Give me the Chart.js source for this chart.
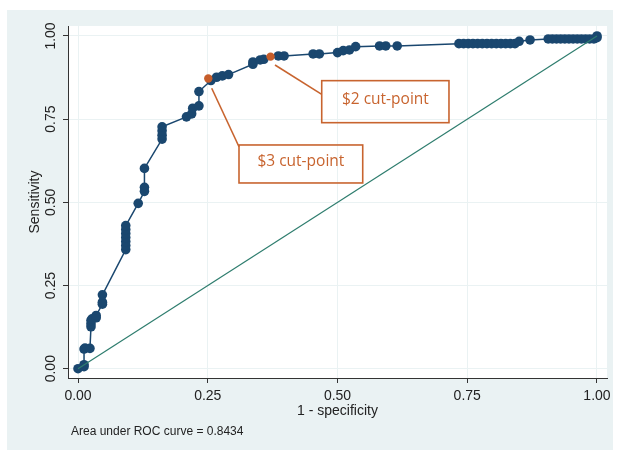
<!DOCTYPE html>
<html>
<head>
<meta charset="utf-8">
<script src="https://cdn.jsdelivr.net/npm/chart.js@4.4.1/dist/chart.umd.min.js"></script>
<style>
  html, body { margin: 0; padding: 0; background: #ffffff; }
  canvas { display: block; }
</style>
</head>
<body>
<canvas id="c" width="617" height="452"></canvas>
<script>
// ---- data ----
const fpr = [0, 0.0116, 0.0116, 0.0116, 0.0135, 0.023, 0.025, 0.025, 0.025, 0.027, 0.035, 0.035,
  0.047, 0.047, 0.047, 0.092, 0.092, 0.092, 0.092, 0.092, 0.092, 0.092, 0.116, 0.128, 0.128, 0.128,
  0.162, 0.162, 0.162, 0.162, 0.209, 0.219, 0.221, 0.233, 0.233, 0.256, 0.267, 0.278, 0.29,
  0.337, 0.337, 0.351, 0.358, 0.386, 0.397, 0.453, 0.465, 0.5, 0.511, 0.523, 0.535, 0.581, 0.593, 0.615,
  0.734, 0.743, 0.752, 0.761, 0.770, 0.779, 0.788, 0.797, 0.806, 0.815, 0.824, 0.833, 0.842,
  0.85, 0.871,
  0.906, 0.914, 0.922, 0.930, 0.938, 0.946, 0.954, 0.962, 0.970, 0.978, 0.986, 0.994, 1.0, 1.0];
const tpr = [0, 0.006, 0.012, 0.059, 0.062, 0.061, 0.126, 0.135, 0.145, 0.15, 0.153, 0.16,
  0.194, 0.2, 0.222, 0.358, 0.37, 0.382, 0.394, 0.406, 0.418, 0.43, 0.497, 0.533, 0.545, 0.602,
  0.69, 0.702, 0.715, 0.727, 0.757, 0.766, 0.783, 0.79, 0.833, 0.866, 0.876, 0.88, 0.884,
  0.915, 0.922, 0.928, 0.93, 0.94, 0.94, 0.946, 0.946, 0.95, 0.956, 0.958, 0.968, 0.97, 0.97, 0.97,
  0.977, 0.977, 0.977, 0.977, 0.977, 0.977, 0.977, 0.977, 0.977, 0.977, 0.977, 0.977, 0.977,
  0.984, 0.988,
  0.991, 0.991, 0.991, 0.991, 0.991, 0.991, 0.991, 0.991, 0.991, 0.991, 0.991, 0.991, 0.995, 1.0];
const cutX = [0.251, 0.371];
const cutY = [0.872, 0.938];
const cutLabels = ["$3 cut-point", "$2 cut-point"];
const diagX = [0, 1];
const diagY = [0, 1];
const tickVals = [0, 0.25, 0.5, 0.75, 1];
const tickLabels = ["0.00", "0.25", "0.50", "0.75", "1.00"];
const xTitle = "1 - specificity";
const yTitle = "Sensitivity";
const note = "Area under ROC curve = 0.8434";

// annotation layout (data coordinates)
const boxes = [
  { x0: 0.3102, x1: 0.5486, y0: 0.6724, y1: 0.5582, lx0: 0.2576, ly0: 0.8428, lx1: 0.3102, ly1: 0.667 },
  { x0: 0.4696, x1: 0.7148, y0: 0.8657, y1: 0.7394, lx0: 0.3796, ly0: 0.9128, lx1: 0.4696, ly1: 0.8245 }
];

const NAVY = '#1A476F';
const ORANGE = '#C65D2A';
const ORANGE_T = '#C8642F';
const TEAL = '#2E7D6E';
const BG = '#EAF2F3';

const curve = fpr.map((v, i) => ({ x: v, y: tpr[i] }));
const cuts = cutX.map((v, i) => ({ x: v, y: cutY[i] }));
const diag = diagX.map((v, i) => ({ x: v, y: diagY[i] }));

const decor = {
  id: 'decor',
  beforeDraw(chart) {
    const ctx = chart.ctx;
    ctx.save();
    ctx.fillStyle = '#ffffff';
    ctx.fillRect(0, 0, chart.width, chart.height);
    ctx.fillStyle = BG;
    ctx.fillRect(7, 10, 606, 440);
    const a = chart.chartArea;
    ctx.fillStyle = '#ffffff';
    ctx.fillRect(a.left, a.top, a.right - a.left, a.bottom - a.top);
    ctx.restore();
  },
  afterDraw(chart) {
    const ctx = chart.ctx;
    const xs = chart.scales.x, ys = chart.scales.y;
    ctx.save();
    // y tick labels rotated
    ctx.fillStyle = '#222';
    ctx.font = '14px "Liberation Sans", Arial, sans-serif';
    ctx.textAlign = 'center';
    ctx.textBaseline = 'middle';
    tickVals.forEach((v, i) => {
      const py = ys.getPixelForValue(v);
      ctx.save();
      ctx.translate(51, py);
      ctx.rotate(-Math.PI / 2);
      ctx.fillText(tickLabels[i], 0, 0);
      ctx.restore();
    });
    // note
    ctx.font = '12px "Liberation Sans", Arial, sans-serif';
    ctx.textAlign = 'left';
    ctx.fillStyle = '#222';
    ctx.fillText(note, 71, 432);
    // annotations
    boxes.forEach((b, i) => {
      const X0 = xs.getPixelForValue(b.x0), X1 = xs.getPixelForValue(b.x1);
      const Y0 = ys.getPixelForValue(b.y0), Y1 = ys.getPixelForValue(b.y1);
      ctx.strokeStyle = ORANGE_T;
      ctx.lineWidth = 1.6;
      ctx.strokeRect(X0, Y0, X1 - X0, Y1 - Y0);
      ctx.beginPath();
      ctx.moveTo(xs.getPixelForValue(b.lx0), ys.getPixelForValue(b.ly0));
      ctx.lineTo(xs.getPixelForValue(b.lx1), ys.getPixelForValue(b.ly1));
      ctx.stroke();
      ctx.fillStyle = ORANGE_T;
      ctx.font = '15.5px "Open Sans", "Noto Sans", sans-serif';
      ctx.textAlign = 'center';
      ctx.textBaseline = 'middle';
      ctx.fillText(cutLabels[i], (X0 + X1) / 2, (Y0 + Y1) / 2 - 2);
    });
    ctx.restore();
  }
};

new Chart(document.getElementById('c'), {
  type: 'scatter',
  data: {
    datasets: [
      { label: 'diag', data: diag, showLine: true, borderColor: TEAL, borderWidth: 1.2,
        pointRadius: 0, order: 0 },
      { label: 'cuts', data: cuts, pointRadius: 4.2, pointBackgroundColor: ORANGE,
        pointBorderWidth: 0, order: 1 },
      { label: 'roc', data: curve, showLine: true, borderColor: NAVY, borderWidth: 1.5,
        pointRadius: 4.8, pointBackgroundColor: NAVY, pointBorderWidth: 0, order: 2 }
    ]
  },
  options: {
    responsive: false,
    animation: false,
    devicePixelRatio: 1,
    layout: { padding: { top: 26, right: 10, left: 0, bottom: 0 } },
    plugins: { legend: { display: false }, tooltip: { enabled: false } },
    scales: {
      x: {
        type: 'linear', min: -0.0193, max: 1.0193,
        afterBuildTicks: s => { s.ticks = tickVals.map(v => ({ value: v })); },
        afterFit: s => { s.height = 74; },
        ticks: {
          callback: (v) => tickLabels[tickVals.indexOf(v)],
          font: { family: '"Liberation Sans", Arial, sans-serif', size: 14 },
          color: '#222', padding: 5, maxRotation: 0, minRotation: 0
        },
        grid: { color: BG, lineWidth: 1, tickColor: '#333', tickLength: 5 },
        border: { display: true, color: '#333', width: 1 },
        title: { display: true, text: xTitle, color: '#222',
          font: { family: '"Liberation Sans", Arial, sans-serif', size: 14 },
          padding: { top: 0, bottom: 32.6 } }
      },
      y: {
        type: 'linear', min: -0.028, max: 1.03,
        afterBuildTicks: s => { s.ticks = tickVals.map(v => ({ value: v })); },
        afterFit: s => { s.width = 68; },
        ticks: { display: false },
        grid: { color: BG, lineWidth: 1, tickColor: '#333', tickLength: 5 },
        border: { display: true, color: '#333', width: 1 },
        title: { display: true, text: yTitle, color: '#222',
          font: { family: '"Liberation Sans", Arial, sans-serif', size: 14 },
          padding: { top: 26.6, bottom: 0 } }
      }
    }
  },
  plugins: [decor]
});
</script>
</body>
</html>
